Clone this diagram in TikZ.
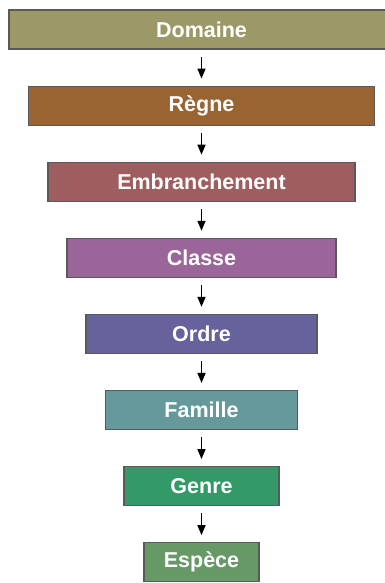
\documentclass[tikz,border=0pt]{standalone}
\usepackage{fontspec}
\setmainfont{Liberation Sans}
\usetikzlibrary{arrows.meta, positioning}

\definecolor{domainecol}{HTML}{9C9868}
\definecolor{regnecol}{HTML}{9A6432}
\definecolor{embrcol}{HTML}{9E5D5E}
\definecolor{classecol}{HTML}{9A6598}
\definecolor{ordrecol}{HTML}{66629C}
\definecolor{famillecol}{HTML}{66999B}
\definecolor{genrecol}{HTML}{339966}
\definecolor{espececol}{HTML}{669966}

\tikzset{
    rankbox/.style={draw=black!65, line width=1.1pt, minimum height=39pt,
        inner sep=0pt, text=white, font=\fontsize{21.5}{25}\selectfont\bfseries},
    rankarrow/.style={-{Triangle[length=10pt,width=8pt]}, line width=1.6pt,
        shorten <=7pt, shorten >=7pt}
}

\begin{document}
\begin{tikzpicture}[node distance=36pt]
    \useasboundingbox (0,0) rectangle (385pt,-583pt);
    % Taxonomic ranks, from widest to narrowest
    \node[rankbox, fill=domainecol, minimum width=385pt] (domaine) at (201.5pt,-29.5pt) {Domaine};
    \node[rankbox, fill=regnecol, minimum width=346pt, below=of domaine] (regne) {Règne};
    \node[rankbox, fill=embrcol, minimum width=307pt, below=of regne] (embr) {Embranchement};
    \node[rankbox, fill=classecol, minimum width=269pt, below=of embr] (classe) {Classe};
    \node[rankbox, fill=ordrecol, minimum width=231pt, below=of classe] (ordre) {Ordre};
    \node[rankbox, fill=famillecol, minimum width=192pt, below=of ordre] (famille) {Famille};
    \node[rankbox, fill=genrecol, minimum width=155pt, below=of famille] (genre) {Genre};
    \node[rankbox, fill=espececol, minimum width=115pt, below=of genre] (espece) {Espèce};
    % Arrows between ranks
    \draw[rankarrow] (domaine) -- (regne);
    \draw[rankarrow] (regne) -- (embr);
    \draw[rankarrow] (embr) -- (classe);
    \draw[rankarrow] (classe) -- (ordre);
    \draw[rankarrow] (ordre) -- (famille);
    \draw[rankarrow] (famille) -- (genre);
    \draw[rankarrow] (genre) -- (espece);
\end{tikzpicture}
\end{document}
